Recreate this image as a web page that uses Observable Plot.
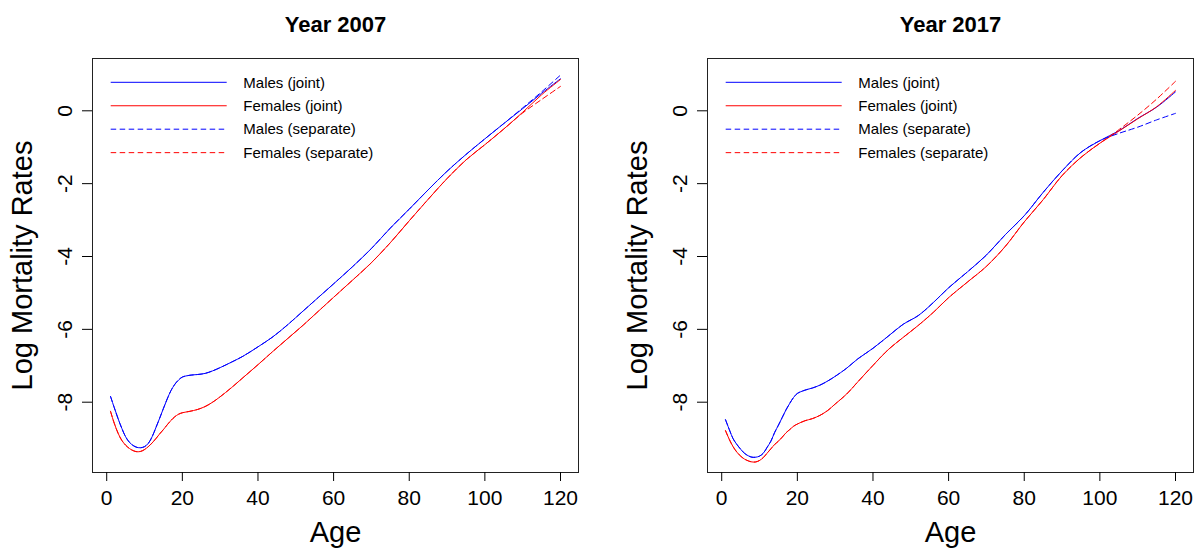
<!DOCTYPE html>
<html><head><meta charset="utf-8">
<script src="https://cdn.jsdelivr.net/npm/d3@7"></script>
<script src="https://cdn.jsdelivr.net/npm/@observablehq/plot@0.6"></script>
<style>
html,body{margin:0;padding:0;background:#fff;}
#wrap{display:flex;width:1203px;height:549px;overflow:hidden;}
#wrap svg{display:block;flex:none;}
</style></head><body><div id="wrap"></div>
<script>
const ages = [1,2,3,4,5,6,7,8,9,10,11,12,13,14,15,16,17,18,19,20,22,24,26,28,30,33,36,40,44,48,52,56,60,65,70,75,80,85,90,95,100,105,110,115,120];

const male2007Joint = [-7.84,-8.15,-8.45,-8.72,-8.95,-9.10,-9.19,-9.24,-9.25,-9.22,-9.13,-8.95,-8.70,-8.44,-8.17,-7.91,-7.68,-7.51,-7.39,-7.31,-7.26,-7.24,-7.21,-7.14,-7.05,-6.90,-6.74,-6.48,-6.20,-5.86,-5.49,-5.12,-4.75,-4.28,-3.78,-3.22,-2.70,-2.17,-1.66,-1.20,-0.77,-0.35,0.06,0.48,0.88];
const female2007Joint = [-8.25,-8.58,-8.85,-9.05,-9.18,-9.27,-9.33,-9.36,-9.35,-9.30,-9.22,-9.12,-9.00,-8.87,-8.75,-8.62,-8.50,-8.40,-8.33,-8.29,-8.25,-8.20,-8.12,-8.00,-7.85,-7.60,-7.33,-6.97,-6.60,-6.24,-5.88,-5.50,-5.12,-4.65,-4.17,-3.62,-3.02,-2.43,-1.86,-1.35,-0.93,-0.50,-0.04,0.44,0.86];
const male2007Sep = [-7.84,-8.15,-8.45,-8.72,-8.95,-9.10,-9.19,-9.24,-9.25,-9.22,-9.13,-8.95,-8.70,-8.44,-8.17,-7.91,-7.68,-7.51,-7.39,-7.31,-7.26,-7.24,-7.21,-7.14,-7.05,-6.90,-6.74,-6.48,-6.20,-5.86,-5.49,-5.12,-4.75,-4.28,-3.78,-3.22,-2.70,-2.17,-1.66,-1.20,-0.77,-0.35,0.08,0.52,0.98];
const female2007Sep = [-8.25,-8.58,-8.85,-9.05,-9.18,-9.27,-9.33,-9.36,-9.35,-9.30,-9.22,-9.12,-9.00,-8.87,-8.75,-8.62,-8.50,-8.40,-8.33,-8.29,-8.25,-8.20,-8.12,-8.00,-7.85,-7.60,-7.33,-6.97,-6.60,-6.24,-5.88,-5.50,-5.12,-4.65,-4.17,-3.62,-3.02,-2.43,-1.86,-1.35,-0.93,-0.50,-0.06,0.31,0.67];

const male2017Joint = [-8.48,-8.75,-9.00,-9.16,-9.29,-9.40,-9.47,-9.51,-9.51,-9.48,-9.40,-9.24,-9.07,-8.83,-8.63,-8.42,-8.21,-8.03,-7.87,-7.76,-7.67,-7.61,-7.53,-7.42,-7.29,-7.07,-6.81,-6.52,-6.19,-5.86,-5.62,-5.26,-4.86,-4.42,-3.96,-3.40,-2.88,-2.24,-1.65,-1.14,-0.82,-0.55,-0.21,0.10,0.52];
const female2017Joint = [-8.78,-9.02,-9.22,-9.37,-9.48,-9.56,-9.61,-9.64,-9.64,-9.60,-9.52,-9.40,-9.28,-9.16,-9.07,-8.96,-8.84,-8.75,-8.66,-8.60,-8.51,-8.45,-8.36,-8.23,-8.05,-7.78,-7.44,-6.99,-6.56,-6.22,-5.89,-5.53,-5.13,-4.70,-4.27,-3.72,-3.05,-2.44,-1.78,-1.28,-0.89,-0.56,-0.22,0.11,0.56];
const male2017Sep = [-8.48,-8.75,-9.00,-9.16,-9.29,-9.40,-9.47,-9.51,-9.51,-9.48,-9.40,-9.24,-9.07,-8.83,-8.63,-8.42,-8.21,-8.03,-7.87,-7.76,-7.67,-7.61,-7.53,-7.42,-7.29,-7.07,-6.81,-6.52,-6.19,-5.86,-5.62,-5.26,-4.86,-4.42,-3.96,-3.40,-2.88,-2.24,-1.65,-1.14,-0.82,-0.62,-0.45,-0.25,-0.07];
const female2017Sep = [-8.78,-9.02,-9.22,-9.37,-9.48,-9.56,-9.61,-9.64,-9.64,-9.60,-9.52,-9.40,-9.28,-9.16,-9.07,-8.96,-8.84,-8.75,-8.66,-8.60,-8.51,-8.45,-8.36,-8.23,-8.05,-7.78,-7.44,-6.99,-6.56,-6.22,-5.89,-5.53,-5.13,-4.70,-4.27,-3.72,-3.05,-2.44,-1.78,-1.28,-0.89,-0.52,-0.12,0.32,0.81];

const xTicks = [0,20,40,60,80,100,120];
const yTicks = [-8,-6,-4,-2,0];
const legendLabels = ["Males (joint)","Females (joint)","Males (separate)","Females (separate)"];
const seriesColors = ["#0000ff","#ff0000","#0000ff","#ff0000"];
const seriesDash = [null,null,"5.5,3.5","5.5,3.5"];

const panels = [
  {title: "Year 2007", series: [male2007Joint, female2007Joint, male2007Sep, female2007Sep], width: 615, marginRight: 37},
  {title: "Year 2017", series: [male2017Joint, female2017Joint, male2017Sep, female2017Sep], width: 588, marginRight: 10}
];

const ML = 92, MT = 58, MB = 77, H = 549;
const font = "'Liberation Sans', Arial, Helvetica, sans-serif";

function addLegend(svg) {
  const g = d3.select(svg).append("g").attr("transform", `translate(${ML},${MT})`);
  legendLabels.forEach((lab, i) => {
    const y = 24.3 + i * 23.45;
    g.append("line").attr("x1", 18.7).attr("x2", 134.7).attr("y1", y).attr("y2", y)
      .attr("stroke", seriesColors[i]).attr("stroke-width", 1)
      .attr("stroke-dasharray", seriesDash[i]);
    g.append("text").attr("x", 151.3).attr("y", y).attr("dy", "0.35em")
      .attr("text-anchor", "start")
      .attr("font-size", 15).attr("fill", "#000").attr("font-family", font).text(lab);
  });
}

const wrap = document.getElementById("wrap");
for (const p of panels) {
  const lineMarks = p.series.map((vals, k) => {
    const rows = ages.map((a, i) => ({age: a, v: vals[i]}));
    return Plot.line(rows, {x: "age", y: "v", stroke: seriesColors[k], strokeWidth: 1,
      strokeDasharray: seriesDash[k] || undefined, curve: "catmull-rom"});
  });
  const chart = Plot.plot({
    width: p.width, height: H,
    marginLeft: ML, marginRight: p.marginRight, marginTop: MT, marginBottom: MB,
    style: {fontFamily: font, background: "#fff", color: "#000"},
    x: {domain: [-3.76, 124.76]},
    y: {domain: [-9.93, 1.436]},
    marks: [
      Plot.frame({stroke: "#222", strokeWidth: 1}),
      Plot.axisX({ticks: xTicks, tickSize: 9, tickPadding: 8.6, fontSize: 21, label: null, tickFormat: d => String(d)}),
      Plot.axisY({ticks: yTicks, tickSize: 10, tickPadding: 11, tickRotate: -90, fontSize: 21, label: null,
        tickFormat: d => String(d)}),
      ...lineMarks,
      Plot.text([p.title], {text: d => d, frameAnchor: "top", dy: -26.6, lineAnchor: "bottom",
        fontWeight: "bold", fontSize: 22}),
      Plot.text(["Age"], {text: d => d, frameAnchor: "bottom", dy: 69.3, lineAnchor: "bottom", fontSize: 29}),
      Plot.text(["Log Mortality Rates"], {text: d => d, frameAnchor: "left", dx: -81, rotate: -90,
        textAnchor: "middle", lineAnchor: "top", fontSize: 29})
    ]
  });
  addLegend(chart);
  wrap.appendChild(chart);
}
</script>
</body></html>
